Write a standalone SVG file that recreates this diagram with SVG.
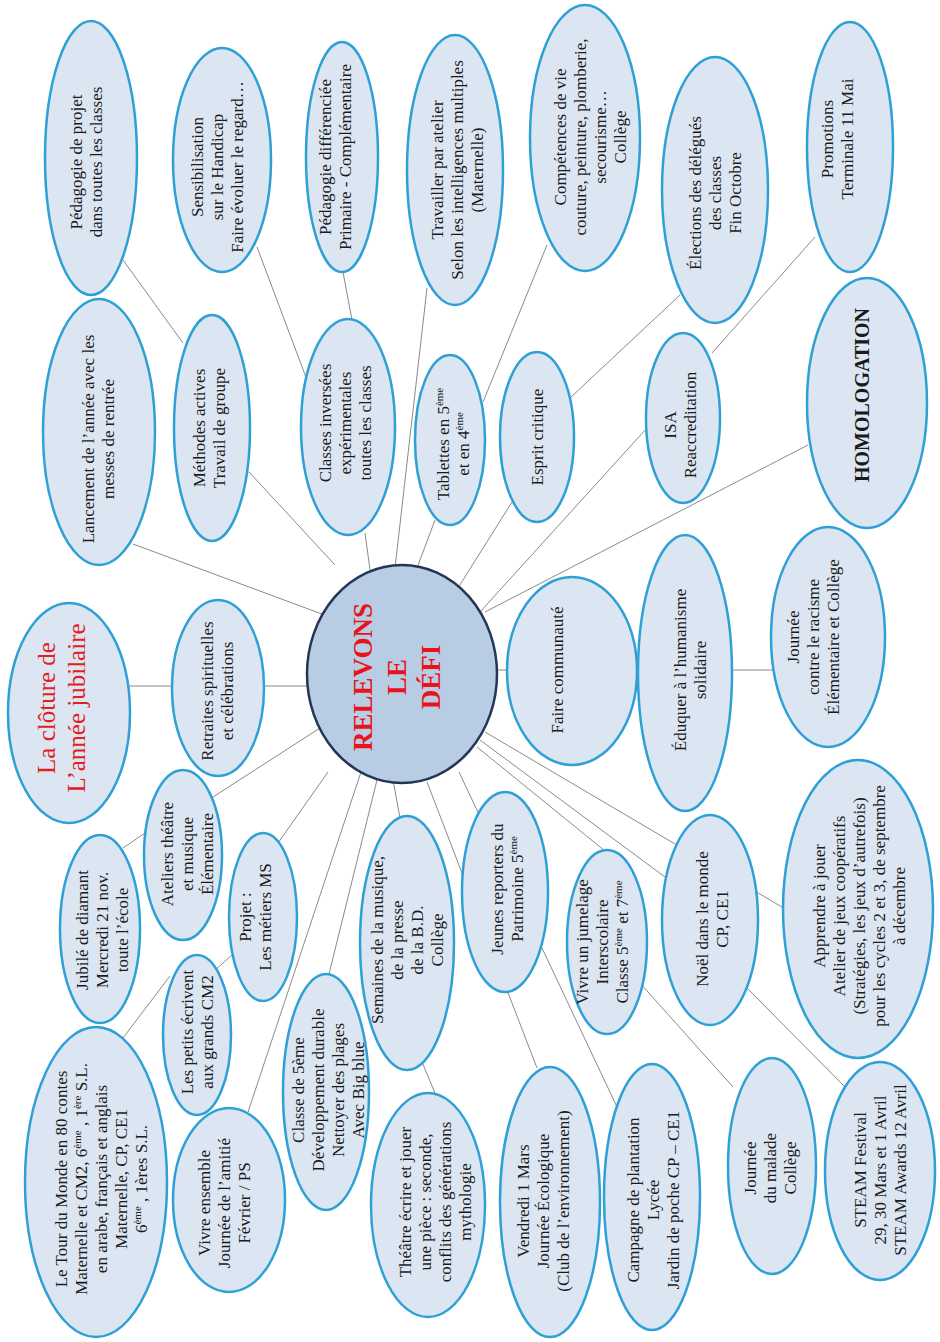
<svg xmlns="http://www.w3.org/2000/svg" width="940" height="1342" viewBox="0 0 940 1342">
<style>
.n ellipse{fill:#dce6f2;stroke:#2fa0d5;stroke-width:2.5}
.t{font-family:"Liberation Serif","Times New Roman",serif;font-size:17px;fill:#1a1a1a;text-anchor:middle}
.s{font-size:11px}
.c line{stroke:#8a8a8a;stroke-width:1}
</style>
<rect width="940" height="1342" fill="#ffffff"/>
<g id="connectors" class="c">
<line x1="330" y1="617" x2="133" y2="544"/>
<line x1="335" y1="565" x2="249" y2="472"/>
<line x1="183" y1="343" x2="123" y2="260"/>
<line x1="307" y1="380" x2="257" y2="247"/>
<line x1="352" y1="320" x2="343" y2="272"/>
<line x1="370" y1="570" x2="365" y2="533"/>
<line x1="395" y1="568" x2="427" y2="288"/>
<line x1="483" y1="402" x2="547" y2="245"/>
<line x1="417" y1="568" x2="435" y2="520"/>
<line x1="458" y1="588" x2="512" y2="502"/>
<line x1="570" y1="398" x2="680" y2="295"/>
<line x1="712" y1="353" x2="815" y2="237"/>
<line x1="480" y1="612" x2="647" y2="428"/>
<line x1="485" y1="612" x2="808" y2="445"/>
<line x1="495" y1="670" x2="510" y2="670"/>
<line x1="634" y1="670" x2="642" y2="670"/>
<line x1="730" y1="670" x2="775" y2="670"/>
<line x1="263" y1="686" x2="310" y2="686"/>
<line x1="128" y1="686" x2="174" y2="686"/>
<line x1="213" y1="797" x2="320" y2="728"/>
<line x1="123" y1="848" x2="145" y2="833"/>
<line x1="278" y1="843" x2="328" y2="772"/>
<line x1="234" y1="953" x2="211" y2="974"/>
<line x1="170" y1="976" x2="123" y2="1038"/>
<line x1="248" y1="1112" x2="361" y2="772"/>
<line x1="377" y1="780" x2="328" y2="978"/>
<line x1="393" y1="780" x2="400" y2="818"/>
<line x1="422" y1="1062" x2="435" y2="1093"/>
<line x1="459" y1="772" x2="617" y2="1107"/>
<line x1="427" y1="782" x2="537" y2="1068"/>
<line x1="485" y1="732" x2="787" y2="910"/>
<line x1="480" y1="740" x2="665" y2="877"/>
<line x1="477" y1="747" x2="605" y2="851"/>
<line x1="747" y1="988" x2="845" y2="1087"/>
<line x1="640" y1="983" x2="733" y2="1087"/>
</g>
<g id="n1" class="n"><ellipse cx="91" cy="158" rx="46" ry="137"/><text class="t" transform="translate(86,162) rotate(-90)"><tspan x="0" y="-4.4">Pédagogie de projet</tspan><tspan x="0" y="15.6">dans toutes les classes</tspan></text></g>
<g id="n2" class="n"><ellipse cx="222" cy="160" rx="49" ry="112"/><text class="t" transform="translate(217,167) rotate(-90)"><tspan x="0" y="-14.4">Sensibilisation</tspan><tspan x="0" y="5.6">sur le Handicap</tspan><tspan x="0" y="25.6">Faire évoluer le regard…</tspan></text></g>
<g id="n3" class="n"><ellipse cx="342" cy="157" rx="36" ry="115"/><text class="t" transform="translate(335,157) rotate(-90)"><tspan x="0" y="-4.4">Pédagogie différenciée</tspan><tspan x="0" y="15.6">Primaire - Complémentaire</tspan></text></g>
<g id="n4" class="n"><ellipse cx="455" cy="170" rx="48" ry="135"/><text class="t" transform="translate(457,170) rotate(-90)"><tspan x="0" y="-14.4">Travailler par atelier</tspan><tspan x="0" y="5.6">Selon les intelligences multiples</tspan><tspan x="0" y="25.6">(Maternelle)</tspan></text></g>
<g id="n5" class="n"><ellipse cx="585" cy="138" rx="55" ry="133"/><text class="t" transform="translate(590,137) rotate(-90)"><tspan x="0" y="-24.4">Compétences de vie</tspan><tspan x="0" y="-4.4">couture, peinture, plomberie,</tspan><tspan x="0" y="15.6">secourisme…</tspan><tspan x="0" y="35.6">Collège</tspan></text></g>
<g id="n6" class="n"><ellipse cx="715" cy="190" rx="53" ry="133"/><text class="t" transform="translate(715,193) rotate(-90)"><tspan x="0" y="-14.4">Élections des délégués</tspan><tspan x="0" y="5.6">des classes</tspan><tspan x="0" y="25.6">Fin Octobre</tspan></text></g>
<g id="n7" class="n"><ellipse cx="850" cy="147" rx="43" ry="125"/><text class="t" transform="translate(837,139) rotate(-90)"><tspan x="0" y="-4.4">Promotions</tspan><tspan x="0" y="15.6">Terminale 11 Mai</tspan></text></g>
<g id="n8" class="n"><ellipse cx="867" cy="403" rx="60" ry="125"/><text class="t" transform="translate(862,395) rotate(-90)" style="font-size:20px;font-weight:bold"><tspan x="0" y="6.6">HOMOLOGATION</tspan></text></g>
<g id="n9" class="n"><ellipse cx="683" cy="418" rx="37" ry="85"/><text class="t" transform="translate(680,425) rotate(-90)"><tspan x="0" y="-4.4">ISA</tspan><tspan x="0" y="15.6">Reaccreditation</tspan></text></g>
<g id="n10" class="n"><ellipse cx="537" cy="437" rx="37" ry="85"/><text class="t" transform="translate(537,437) rotate(-90)"><tspan x="0" y="5.6">Esprit critique</tspan></text></g>
<g id="n11" class="n"><ellipse cx="450" cy="440" rx="35" ry="85"/><text class="t" transform="translate(453,444) rotate(-90)"><tspan x="0" y="-4.4">Tablettes en 5<tspan class="s" dy="-6">ème</tspan></tspan><tspan x="0" y="15.6">et en 4<tspan class="s" dy="-6">ème</tspan></tspan></text></g>
<g id="n12" class="n"><ellipse cx="348" cy="427" rx="47" ry="108"/><text class="t" transform="translate(345,423) rotate(-90)"><tspan x="0" y="-14.4">Classes inversées</tspan><tspan x="0" y="5.6">expérimentales</tspan><tspan x="0" y="25.6">toutes les classes</tspan></text></g>
<g id="n13" class="n"><ellipse cx="212" cy="428" rx="38" ry="113"/><text class="t" transform="translate(209,428) rotate(-90)"><tspan x="0" y="-4.4">Méthodes actives</tspan><tspan x="0" y="15.6">Travail de groupe</tspan></text></g>
<g id="n14" class="n"><ellipse cx="99" cy="432" rx="56" ry="133"/><text class="t" transform="translate(98,439) rotate(-90)"><tspan x="0" y="-4.4">Lancement de l’année avec les</tspan><tspan x="0" y="15.6">messes de rentrée</tspan></text></g>
<g id="n15" class="n"><ellipse cx="69" cy="713" rx="61" ry="110"/><text class="t" transform="translate(62,708) rotate(-90)" style="font-size:25px;fill:#e3201b"><tspan x="0" y="-6.75">La clôture de</tspan><tspan x="0" y="23.25">L’année jubilaire</tspan></text></g>
<g id="n16" class="n"><ellipse cx="218" cy="688" rx="46" ry="88"/><text class="t" transform="translate(217,691) rotate(-90)"><tspan x="0" y="-4.4">Retraites spirituelles</tspan><tspan x="0" y="15.6">et célébrations</tspan></text></g>
<g id="n17"><ellipse cx="402" cy="674" rx="95" ry="109" fill="#b8cce4" stroke="#243656" stroke-width="2.5"/><text class="t" transform="translate(397,677) rotate(-90)" style="font-size:27px;font-weight:bold;fill:#e8141c"><tspan x="0" y="-25.1">RELEVONS</tspan><tspan x="0" y="8.9">LE</tspan><tspan x="0" y="42.9">DÉFI</tspan></text></g>
<g id="n18" class="n"><ellipse cx="572" cy="671" rx="65" ry="94"/><text class="t" transform="translate(557,670) rotate(-90)"><tspan x="0" y="5.6">Faire communauté</tspan></text></g>
<g id="n19" class="n"><ellipse cx="685" cy="673" rx="47" ry="138"/><text class="t" transform="translate(690,670) rotate(-90)"><tspan x="0" y="-4.4">Éduquer à l’humanisme</tspan><tspan x="0" y="15.6">solidaire</tspan></text></g>
<g id="n20" class="n"><ellipse cx="828" cy="637" rx="57" ry="110"/><text class="t" transform="translate(813,637) rotate(-90)"><tspan x="0" y="-14.4">Journée</tspan><tspan x="0" y="5.6">contre le racisme</tspan><tspan x="0" y="25.6">Élémentaire et Collège</tspan></text></g>
<g id="n21" class="n"><ellipse cx="858" cy="909" rx="75" ry="149"/><text class="t" transform="translate(859,906) rotate(-90)"><tspan x="0" y="-34.4">Apprendre à jouer</tspan><tspan x="0" y="-14.4">Atelier de jeux coopératifs</tspan><tspan x="0" y="5.6">(Stratégies, les jeux d’autrefois)</tspan><tspan x="0" y="25.6">pour les cycles 2 et 3, de septembre</tspan><tspan x="0" y="45.6">à décembre</tspan></text></g>
<g id="n22" class="n"><ellipse cx="710" cy="920" rx="48" ry="105"/><text class="t" transform="translate(712,919) rotate(-90)"><tspan x="0" y="-4.4">Noël dans le monde</tspan><tspan x="0" y="15.6">CP, CE1</tspan></text></g>
<g id="n23" class="n"><ellipse cx="607" cy="942" rx="40" ry="92"/><text class="t" transform="translate(602,942) rotate(-90)"><tspan x="0" y="-14.4">Vivre un jumelage</tspan><tspan x="0" y="5.6">Interscolaire</tspan><tspan x="0" y="25.6">Classe 5<tspan class="s" dy="-6">ème</tspan><tspan dy="6"> et 7</tspan><tspan class="s" dy="-6">ème</tspan></tspan></text></g>
<g id="n24" class="n"><ellipse cx="505" cy="892" rx="43" ry="100"/><text class="t" transform="translate(507,889) rotate(-90)"><tspan x="0" y="-4.4">Jeunes reporters du</tspan><tspan x="0" y="15.6">Patrimoine 5<tspan class="s" dy="-6">ème</tspan></tspan></text></g>
<g id="n25" class="n"><ellipse cx="407" cy="943" rx="47" ry="127"/><text class="t" transform="translate(407,940) rotate(-90)"><tspan x="0" y="-24.4">Semaines de la musique,</tspan><tspan x="0" y="-4.4">de la presse</tspan><tspan x="0" y="15.6">de la B.D.</tspan><tspan x="0" y="35.6">Collège</tspan></text></g>
<g id="n26" class="n"><ellipse cx="326" cy="1092" rx="43" ry="118"/><text class="t" transform="translate(328,1090) rotate(-90)"><tspan x="0" y="-24.4">Classe de 5ème</tspan><tspan x="0" y="-4.4">Développement durable</tspan><tspan x="0" y="15.6">Nettoyer des plages</tspan><tspan x="0" y="35.6">Avec Big blue</tspan></text></g>
<g id="n27" class="n"><ellipse cx="428" cy="1205" rx="57" ry="112"/><text class="t" transform="translate(435,1202) rotate(-90)"><tspan x="0" y="-24.4">Théâtre écrire et jouer</tspan><tspan x="0" y="-4.4">une pièce : seconde,</tspan><tspan x="0" y="15.6">conflits des générations</tspan><tspan x="0" y="35.6">mythologie</tspan></text></g>
<g id="n28" class="n"><ellipse cx="550" cy="1202" rx="50" ry="135"/><text class="t" transform="translate(543,1201) rotate(-90)"><tspan x="0" y="-14.4">Vendredi 1 Mars</tspan><tspan x="0" y="5.6">Journée Écologique</tspan><tspan x="0" y="25.6">(Club de l’environnement)</tspan></text></g>
<g id="n29" class="n"><ellipse cx="652" cy="1197" rx="48" ry="133"/><text class="t" transform="translate(653,1200) rotate(-90)"><tspan x="0" y="-14.4">Campagne de plantation</tspan><tspan x="0" y="5.6">Lycée</tspan><tspan x="0" y="25.6">Jardin de poche CP – CE1</tspan></text></g>
<g id="n30" class="n"><ellipse cx="772" cy="1166" rx="44" ry="108"/><text class="t" transform="translate(770,1168) rotate(-90)"><tspan x="0" y="-14.4">Journée</tspan><tspan x="0" y="5.6">du malade</tspan><tspan x="0" y="25.6">Collège</tspan></text></g>
<g id="n31" class="n"><ellipse cx="880" cy="1171" rx="55" ry="109"/><text class="t" transform="translate(880,1170) rotate(-90)"><tspan x="0" y="-14.4">STEAM Festival</tspan><tspan x="0" y="5.6">29, 30 Mars et 1 Avril</tspan><tspan x="0" y="25.6">STEAM Awards 12 Avril</tspan></text></g>
<g id="n32" class="n"><ellipse cx="96" cy="1182" rx="71" ry="155"/><text class="t" transform="translate(101,1179) rotate(-90)"><tspan x="0" y="-34.4">Le Tour du Monde en 80 contes</tspan><tspan x="0" y="-14.4">Maternelle et CM2, 6<tspan class="s" dy="-6">ème</tspan><tspan dy="6"> , 1</tspan><tspan class="s" dy="-6">ère</tspan><tspan dy="6"> S.L.</tspan></tspan><tspan x="0" y="5.6">en arabe, français et anglais</tspan><tspan x="0" y="25.6">Maternelle, CP, CE1</tspan><tspan x="0" y="45.6">6<tspan class="s" dy="-6">ème</tspan><tspan dy="6"> , 1ères S.L.</tspan></tspan></text></g>
<g id="n33" class="n"><ellipse cx="229" cy="1200" rx="56" ry="92"/><text class="t" transform="translate(224,1203) rotate(-90)"><tspan x="0" y="-14.4">Vivre ensemble</tspan><tspan x="0" y="5.6">Journée de l’amitié</tspan><tspan x="0" y="25.6">Février / PS</tspan></text></g>
<g id="n34" class="n"><ellipse cx="197" cy="1035" rx="34" ry="80"/><text class="t" transform="translate(197,1032) rotate(-90)"><tspan x="0" y="-4.4">Les petits écrivent</tspan><tspan x="0" y="15.6">aux grands CM2</tspan></text></g>
<g id="n35" class="n"><ellipse cx="263" cy="917" rx="34" ry="84"/><text class="t" transform="translate(255,917) rotate(-90)"><tspan x="0" y="-4.4">Projet :</tspan><tspan x="0" y="15.6">Les métiers MS</tspan></text></g>
<g id="n36" class="n"><ellipse cx="183" cy="855" rx="39" ry="85"/><text class="t" transform="translate(187,854) rotate(-90)"><tspan x="0" y="-14.4">Ateliers théâtre</tspan><tspan x="0" y="5.6">et musique</tspan><tspan x="0" y="25.6">Élémentaire</tspan></text></g>
<g id="n37" class="n"><ellipse cx="100" cy="929" rx="40" ry="94"/><text class="t" transform="translate(102,930) rotate(-90)"><tspan x="0" y="-14.4">Jubilé de diamant</tspan><tspan x="0" y="5.6">Mercredi 21 nov.</tspan><tspan x="0" y="25.6">toute l’école</tspan></text></g>
</svg>
